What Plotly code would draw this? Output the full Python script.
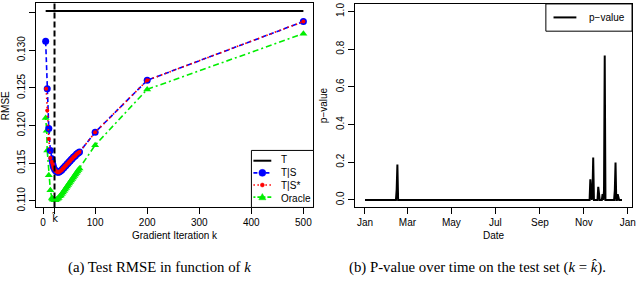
import plotly.graph_objects as go
import pandas as pd

W, H = 640, 295

# ---------------- Left panel data: RMSE vs gradient iteration k ----------------
k_T = [5, 500]
rmse_T = [0.1352, 0.1352]

k_TS = [5, 8, 11, 14, 17, 18, 19, 20, 22, 24, 26, 28, 30, 32, 34, 36, 38, 40, 42, 44,
        46, 48, 50, 52, 54, 56, 58, 60, 62, 64, 66, 68, 70, 100, 200, 500]
rmse_TS = [0.1312, 0.1249, 0.1196, 0.1167, 0.1156, 0.1152, 0.1148, 0.1145, 0.1142, 0.1140,
           0.1139, 0.1138, 0.1138, 0.1139, 0.1140, 0.1141, 0.1143, 0.1144, 0.1146, 0.1147,
           0.1149, 0.1150, 0.1152, 0.1153, 0.1155, 0.1156, 0.1158, 0.1159, 0.1160, 0.1162,
           0.1163, 0.1164, 0.1165, 0.1191, 0.1260, 0.1338]

k_TSs = [6, 8, 11, 14, 17, 18, 19, 20, 22, 24, 26, 28, 30, 32, 34, 36, 38, 40, 42, 44,
         46, 48, 50, 52, 54, 56, 58, 60, 62, 64, 66, 68, 70, 100, 200, 500]
rmse_TSs = [0.1249, 0.1220, 0.1182, 0.1157, 0.1152, 0.1150, 0.1147, 0.1144, 0.1142, 0.1140,
            0.1139, 0.1138, 0.1138, 0.1139, 0.1140, 0.1141, 0.1143, 0.1144, 0.1146, 0.1147,
            0.1149, 0.1150, 0.1152, 0.1153, 0.1155, 0.1156, 0.1158, 0.1159, 0.1160, 0.1162,
            0.1163, 0.1164, 0.1165, 0.1191, 0.1260, 0.1338]

k_OR = [5, 7, 8, 11, 14, 17, 18, 19, 20, 22, 24, 26, 28, 30, 32, 34, 36, 38, 40, 42, 44,
        46, 48, 50, 52, 54, 56, 58, 60, 62, 64, 66, 68, 70, 100, 200, 500]
rmse_OR = [0.1210, 0.1193, 0.1167, 0.1134, 0.1114, 0.1104, 0.1103, 0.1102, 0.1102, 0.1101,
           0.1101, 0.1102, 0.1103, 0.1104, 0.1106, 0.1107, 0.1109, 0.1111, 0.1113, 0.1115,
           0.1117, 0.1119, 0.1121, 0.1123, 0.1125, 0.1127, 0.1129, 0.1131, 0.1133, 0.1135,
           0.1137, 0.1139, 0.1141, 0.1143, 0.1174, 0.1248, 0.1322]

k_hat = 22
x_ticks_left = [0, 100, 200, 300, 400, 500]
y_ticks_left = [0.110, 0.115, 0.120, 0.125, 0.130, 0.135]
legend_labels = ["T", "T|S", "T|S*", "Oracle"]

# ---------------- Right panel data: p-value over time ----------------
date_start, date_end = "2015-01-01", "2015-12-24"
spike_dates = ["2015-02-14", "2015-02-15", "2015-11-10", "2015-11-13", "2015-11-14",
               "2015-11-21", "2015-11-27", "2015-11-29", "2015-11-30", "2015-12-14",
               "2015-12-15", "2015-12-18"]
spike_vals = [0.055, 0.188, 0.109, 0.040, 0.225, 0.069, 0.030, 0.050, 0.766, 0.050,
              0.199, 0.030]
month_ticks = ["2015-01-01", "2015-03-01", "2015-05-01", "2015-07-01", "2015-09-01",
               "2015-11-01", "2016-01-01"]
month_labels = ["Jan", "Mar", "May", "Jul", "Sep", "Nov", "Jan"]
y_ticks_right = [0.0, 0.2, 0.4, 0.6, 0.8, 1.0]

pv = pd.Series(0.0, index=pd.date_range(date_start, date_end, freq="D"))
pv[pd.to_datetime(spike_dates)] = spike_vals

# ---------------- helpers ----------------
def px(x):
    return x / W

def py(y):
    return 1 - y / H

SANS = "Liberation Sans, Arial, sans-serif"
SERIF = "Liberation Serif, Times New Roman, serif"
FS = 10

BLUE, RED, GREEN = "#0000ff", "#ff0000", "#00ee00"

fig = go.Figure()

fig.add_trace(go.Scatter(x=k_T, y=rmse_T, mode="lines", line=dict(color="black", width=2),
                         xaxis="x", yaxis="y", showlegend=False))
fig.add_trace(go.Scatter(x=k_OR, y=rmse_OR, mode="lines+markers",
                         line=dict(color=GREEN, width=1.6, dash="2px,3px,6px,3px"),
                         marker=dict(symbol="triangle-up", size=7, color=GREEN),
                         xaxis="x", yaxis="y", showlegend=False))
fig.add_trace(go.Scatter(x=k_TS, y=rmse_TS, mode="lines+markers",
                         line=dict(color=BLUE, width=1.6, dash="5px,3px"),
                         marker=dict(symbol="circle", size=7, color=BLUE),
                         xaxis="x", yaxis="y", showlegend=False))
fig.add_trace(go.Scatter(x=k_TSs, y=rmse_TSs, mode="lines+markers",
                         line=dict(color=RED, width=1.6, dash="1.5px,3px"),
                         marker=dict(symbol="circle", size=4, color=RED),
                         xaxis="x", yaxis="y", showlegend=False))

fig.add_trace(go.Scatter(x=pv.index, y=pv.values, mode="lines",
                         line=dict(color="black", width=2),
                         xaxis="x2", yaxis="y2", showlegend=False))

axis_common = dict(showline=True, mirror=True, linecolor="black", linewidth=1,
                   ticks="outside", ticklen=6, tickcolor="black", tickwidth=1,
                   showgrid=False, zeroline=False,
                   tickfont=dict(family=SANS, size=FS, color="black"))

fig.update_layout(
    width=W, height=H,
    margin=dict(l=0, r=0, t=0, b=0),
    paper_bgcolor="white", plot_bgcolor="white",
    hovermode=False,
    xaxis=dict(domain=[px(36), px(315)], range=[-14, 518.5], anchor="y",
               tickmode="array", tickvals=[0, k_hat] + x_ticks_left[1:],
               ticktext=["0", ""] + [str(v) for v in x_ticks_left[1:]], **axis_common),
    yaxis=dict(domain=[py(210), py(2)], range=[0.10913, 0.13627], anchor="x",
               tickmode="array", tickvals=y_ticks_left,
               ticktext=["%.3f" % v for v in y_ticks_left], tickangle=-90, **axis_common),
    xaxis2=dict(domain=[px(357), px(636)], type="date",
                range=["2014-12-17 19:00", "2016-01-06 22:00"], anchor="y2",
                tickmode="array", tickvals=month_ticks, ticktext=month_labels, **axis_common),
    yaxis2=dict(domain=[py(210), py(3)], range=[-0.04, 1.04], anchor="x2",
                tickmode="array", tickvals=y_ticks_right,
                ticktext=["%.1f" % v for v in y_ticks_right], tickangle=-90, **axis_common),
)

# vertical dashed line at k-hat
fig.add_shape(type="line", xref="x", yref="y domain", x0=k_hat, x1=k_hat, y0=0, y1=1,
              line=dict(color="black", width=2, dash="6px,3px"))

shapes = []
annos = []

def text(x, y, s, size=FS, family=SANS, angle=0, anchor="center", color="black"):
    annos.append(dict(x=px(x), y=py(y), xref="paper", yref="paper", text=s, showarrow=False,
                      font=dict(family=family, size=size, color=color), textangle=angle,
                      xanchor=anchor, yanchor="middle"))

# axis titles
text(176, 239, "Gradient Iteration k")
text(5, 106, "RMSE", angle=-90)
text(497, 239, "Date")
text(325, 106, "p\u2212value", angle=-90)
# k-hat tick label
text(55, 221, "k\u0302", family="DejaVu Sans, Liberation Sans, sans-serif")

# left legend
shapes.append(dict(type="rect", xref="paper", yref="paper", x0=px(253), x1=px(315.5),
                   y0=py(210), y1=py(152), line=dict(color="black", width=1),
                   fillcolor="white", layer="above"))
leg_styles = [("black", "solid", None, 2), (BLUE, "4px,2px", "circle", 1.6),
              (RED, "1.5px,2.5px", "dot", 1.6), (GREEN, "2px,2px,4px,2px", "tri", 1.6)]
LS = 12.35
y_first = 181 - 1.5 * LS
for i, (col, dash, mk, lw) in enumerate(leg_styles):
    yy = y_first + i * LS
    shapes.append(dict(type="line", xref="paper", yref="paper", x0=px(255), x1=px(273),
                       y0=py(yy), y1=py(yy), line=dict(color=col, width=lw, dash=dash),
                       layer="above"))
    if mk in ("circle", "dot"):
        r = 3.5 if mk == "circle" else 2
        shapes.append(dict(type="circle", xref="paper", yref="paper", xsizemode="pixel",
                           ysizemode="pixel", xanchor=px(264), yanchor=py(yy),
                           x0=-r, x1=r, y0=-r, y1=r, fillcolor=col,
                           line=dict(color=col, width=0.5), layer="above"))
    elif mk == "tri":
        shapes.append(dict(type="path", xref="paper", yref="paper", xsizemode="pixel",
                           ysizemode="pixel", xanchor=px(264), yanchor=py(yy),
                           path="M-3.6,-2.6 L3.6,-2.6 L0,3.6 Z", fillcolor=col,
                           line=dict(color=col, width=0.5), layer="above"))
annos.append(dict(x=px(281), y=py(181), xref="paper", yref="paper",
                  text="<br>".join(legend_labels), showarrow=False, align="left",
                  font=dict(family=SANS, size=10, color="black"),
                  xanchor="left", yanchor="middle"))

# right legend
shapes.append(dict(type="rect", xref="paper", yref="paper", x0=px(549.3), x1=px(636),
                   y0=py(30.7), y1=py(3), line=dict(color="black", width=1),
                   fillcolor="white", layer="above"))
shapes.append(dict(type="line", xref="paper", yref="paper", x0=px(557), x1=px(580),
                   y0=py(16.7), y1=py(16.7), line=dict(color="black", width=2), layer="above"))
text(590.5, 16.7, "p\u2212value", anchor="left")

# captions
text(160, 271, "(a) Test RMSE in function of <i>k</i>", size=14.8, family=SERIF)
text(481, 271, "(b) P-value over time on the test set (<i>k</i> = <i>k\u0302</i>).", size=14.8,
     family=SERIF)

for s in shapes:
    fig.add_shape(**s)
fig.update_layout(annotations=annos)

fig.write_html("out.html", config={"displayModeBar": False, "staticPlot": True},
               post_script="document.body.style.margin='0px';")
